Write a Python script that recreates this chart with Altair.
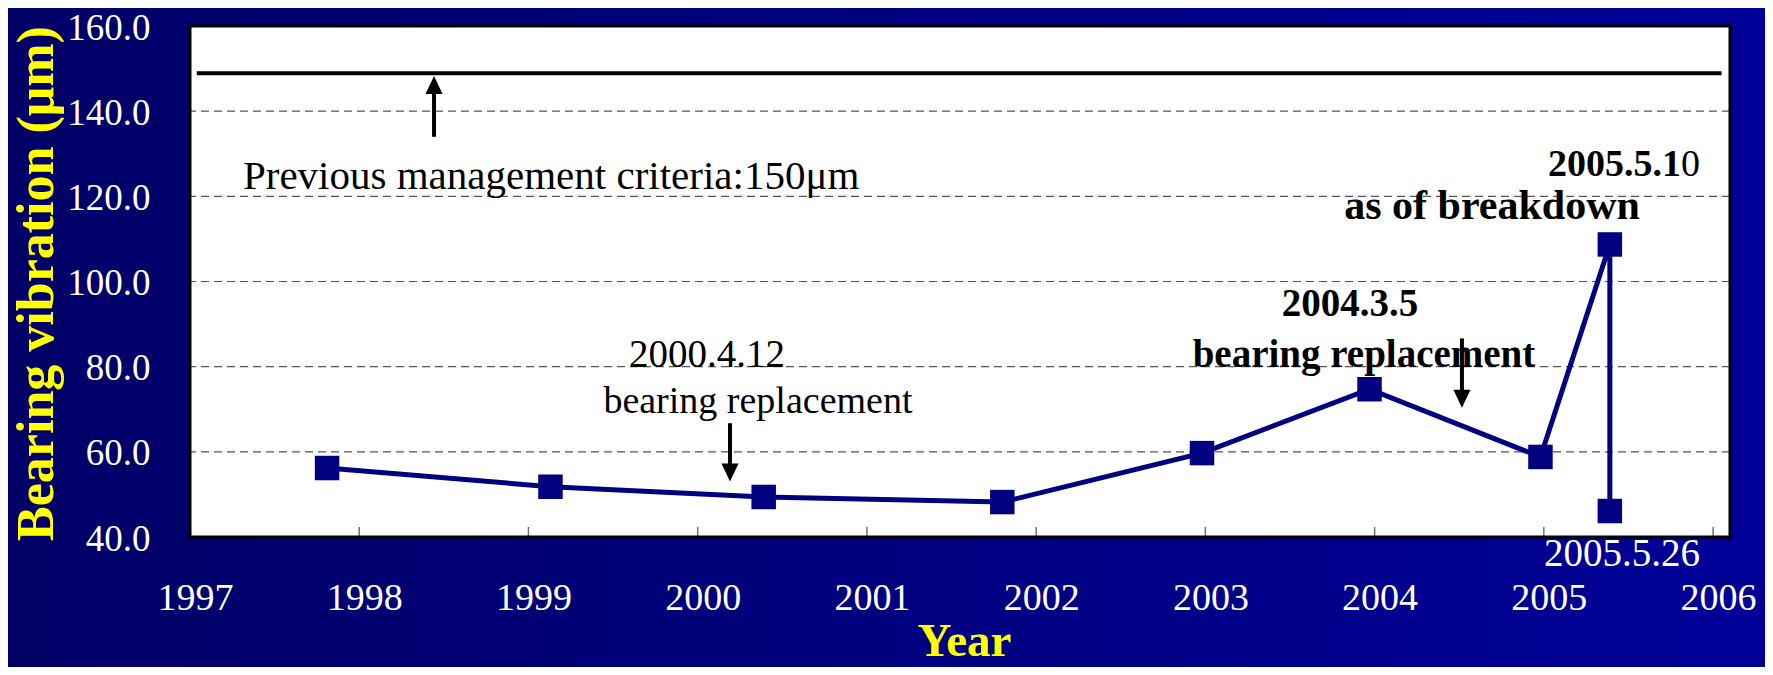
import altair as alt
import pandas as pd

# ---------------- data ----------------
years = [1997.81, 1999.13, 2000.39, 2001.80, 2002.98, 2003.97, 2004.98, 2005.39, 2005.39]
vibration = [56.2, 51.8, 49.4, 48.2, 59.7, 74.7, 58.8, 108.7, 46.1]

x_ticks = [1997, 1998, 1999, 2000, 2001, 2002, 2003, 2004, 2005, 2006]
y_ticks = [40, 60, 80, 100, 120, 140, 160]
grid_values = [60, 80, 100, 120, 140]

criteria_value = 148.9
criteria_span = [1997.04, 2006.05]

note_text = ["Previous management criteria:150μm", "2000.4.12", "bearing replacement",
             "2004.3.5", "bearing replacement", "2005.5.1", "0", "as of breakdown", "2005.5.26"]
note_x = [1997.313, 2000.055, 2000.356, 2003.855, 2003.937, 2005.81, 2005.81, 2004.694, 2005.462]
note_y = [121.8, 79.84, 69.06, 91.8, 79.84, 124.84, 124.84, 114.77, 33.2]

arrow_x = [1998.442, 2000.191, 2004.516]
arrow_tail = [133.98, 66.72, 86.64]
arrow_head = [146.17, 55.12, 72.46]
arrow_dir = ["up", "down", "down"]

# ---------------- styling ----------------
W, H = 1540, 511
FONT = "Liberation Serif"
NAVY = "#000080"
xs = alt.Scale(domain=[1997, 2006.1], nice=False, zero=False)
ys = alt.Scale(domain=[40, 160], nice=False, zero=False)

x_axis = alt.Axis(values=x_ticks, format="d", title="Year", grid=False, domain=False, ticks=False,
                  labelFont=FONT, labelFontSize=38, labelColor="white", labelPadding=72,
                  labelBaseline="alphabetic", labelOffset=5, labelFlush=False, labelOverlap=False,
                  titleFont=FONT, titleFontSize=47, titleFontWeight="bold", titleColor="#ffff00",
                  titleX=774, titleY=118, titleBaseline="alphabetic", titleAlign="center", zindex=1)
y_axis = alt.Axis(values=y_ticks, format=".1f", title="Bearing vibration (μm)", grid=False,
                  domain=False, ticks=False, labelFont=FONT, labelFontSize=37, labelColor="white",
                  labelPadding=40, labelBaseline="middle", labelOffset=2, labelOverlap=False,
                  labelFlush=False,
                  titleFont=FONT, titleFontSize=52, titleFontWeight="bold", titleColor="#ffff00",
                  titleAngle=270, titleX=-138, titleY=257, titleBaseline="alphabetic",
                  titleAlign="center", zindex=1)

one = pd.DataFrame({"k": [0]})

bg = alt.Chart(one).mark_rect(
    fill=alt.Gradient(gradient="linear",
                      stops=[alt.GradientStop(color="#000066", offset=0),
                             alt.GradientStop(color="#000099", offset=1)],
                      x1=0, x2=1, y1=0, y2=0),
    strokeWidth=0).encode(x=alt.value(-200), x2=alt.value(W + 60),
                          y=alt.value(-40), y2=alt.value(H + 160))

plot_bg = alt.Chart(one).mark_rect(fill="white", strokeWidth=0).encode(
    x=alt.value(0), x2=alt.value(W), y=alt.value(0), y2=alt.value(H))

grid = alt.Chart(pd.DataFrame({"g": grid_values})).mark_rule(
    color="#555555", strokeWidth=1.2, strokeDash=[8, 5]).encode(
    y=alt.Y("g:Q", scale=ys, axis=y_axis))

ticks = alt.Chart(pd.DataFrame({"t": x_ticks[1:]})).mark_rule(
    color="#707070", strokeWidth=1.5).encode(
    x=alt.X("t:Q", scale=xs, axis=x_axis), y=alt.value(H), y2=alt.value(H - 10))

frame = alt.Chart(one).mark_rect(fill="white", fillOpacity=0, stroke="black", strokeWidth=3).encode(
    x=alt.value(0), x2=alt.value(W), y=alt.value(0), y2=alt.value(H))

crit = alt.Chart(pd.DataFrame({"y": [criteria_value], "x0": [criteria_span[0]],
                               "x1": [criteria_span[1]]})).mark_rule(
    color="black", strokeWidth=4).encode(
    x=alt.X("x0:Q", scale=xs, axis=x_axis), x2="x1:Q", y=alt.Y("y:Q", scale=ys, axis=y_axis))

arr_df = pd.DataFrame({"x": arrow_x, "tail": arrow_tail, "head": arrow_head, "dir": arrow_dir})
shafts = alt.Chart(arr_df).mark_rule(color="black", strokeWidth=4).encode(
    x=alt.X("x:Q", scale=xs, axis=x_axis), y=alt.Y("tail:Q", scale=ys, axis=y_axis), y2="head:Q")
heads = alt.Chart(arr_df).mark_point(filled=True, color="black", opacity=1, size=324).encode(
    x=alt.X("x:Q", scale=xs, axis=x_axis), y=alt.Y("head:Q", scale=ys, axis=y_axis),
    shape=alt.Shape("dir:N", scale=alt.Scale(domain=["up", "down"],
                                             range=["M0,-1L-0.95,1L0.95,1Z", "M0,1L-0.95,-1L0.95,-1Z"]),
                    legend=None))

df = pd.DataFrame({"year": years, "vib": vibration, "seq": list(range(len(years)))})
line = alt.Chart(df).mark_line(color=NAVY, strokeWidth=5).encode(
    x=alt.X("year:Q", scale=xs, axis=x_axis), y=alt.Y("vib:Q", scale=ys, axis=y_axis),
    order="seq:Q")
pts = alt.Chart(df).mark_square(color=NAVY, size=600, opacity=1).encode(
    x=alt.X("year:Q", scale=xs, axis=x_axis), y=alt.Y("vib:Q", scale=ys, axis=y_axis))

# style per note: (size, weight, align, color)
styles = [(41, "normal", "left", "black"), (39, "normal", "center", "black"),
          (38, "normal", "center", "black"), (39, "bold", "center", "black"),
          (39, "bold", "center", "black"), (38, "bold", "right", "black"),
          (38, "normal", "left", "black"), (42, "bold", "center", "black"),
          (39, "normal", "center", "white")]

notes = []
for i, (s, wgt, al, col) in enumerate(styles):
    nd = pd.DataFrame({"x": [note_x[i]], "y": [note_y[i]], "t": [note_text[i]]})
    notes.append(alt.Chart(nd).mark_text(font=FONT, fontSize=s, fontWeight=wgt, align=al,
                                         baseline="alphabetic", color=col).encode(
        x=alt.X("x:Q", scale=xs, axis=x_axis), y=alt.Y("y:Q", scale=ys, axis=y_axis), text="t:N"))

chart = alt.layer(bg, plot_bg, grid, ticks, frame, crit, shafts, heads, line, pts, *notes).properties(
    width=W, height=H,
    padding={"left": 182, "top": 18, "right": 35, "bottom": 130},
    autosize=alt.AutoSizeParams(type="none"),
    background="#000080",
).configure_view(strokeWidth=0)

chart.save("out.html", embed_options={"renderer": "svg", "actions": False})
